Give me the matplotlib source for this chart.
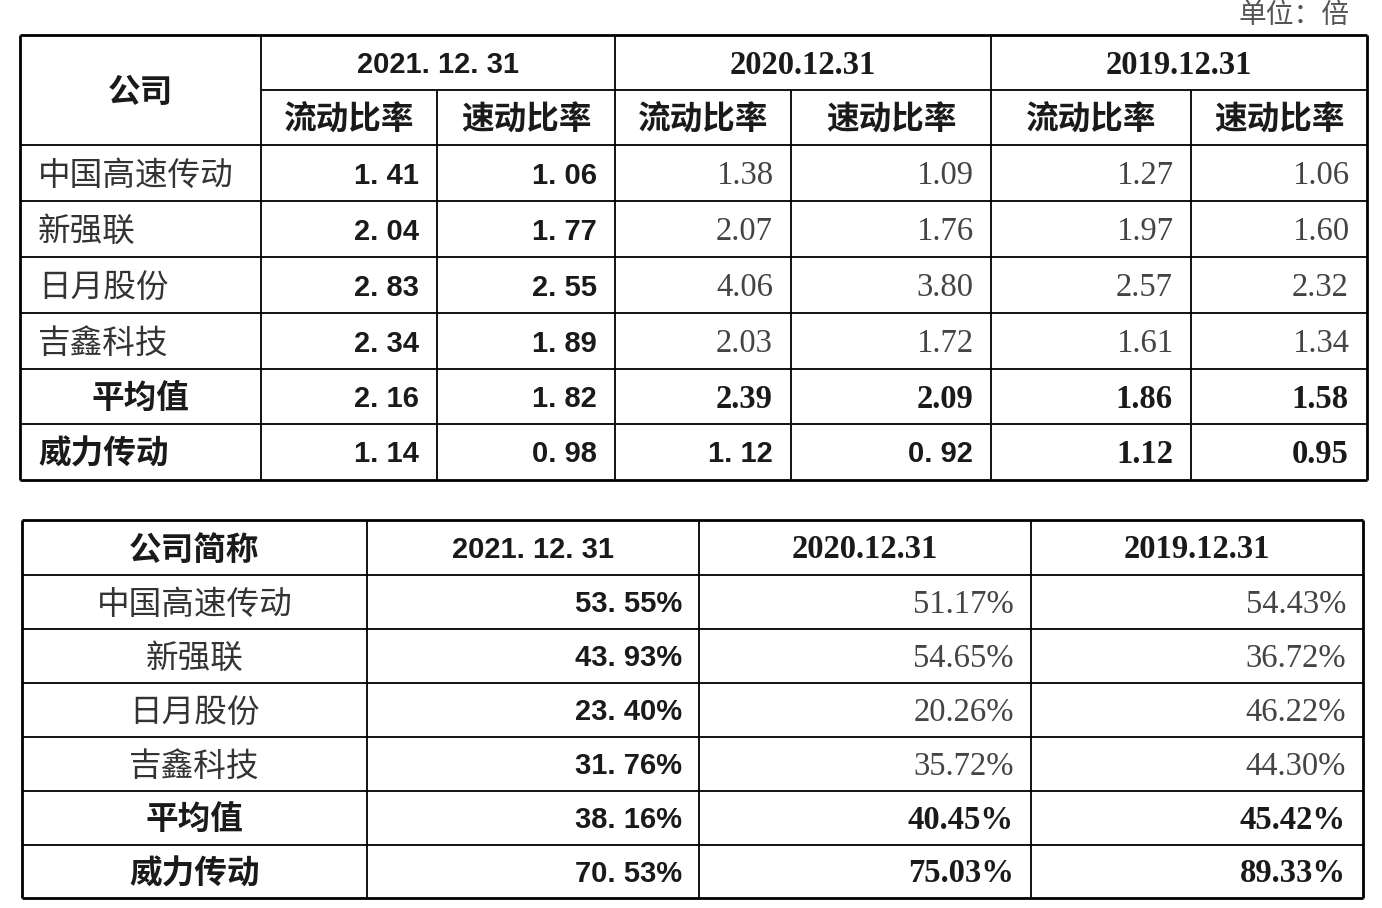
import matplotlib.pyplot as plt

plt.rcParams['font.family'] = ['Noto Sans CJK SC', 'DejaVu Sans']

# Data
companies = ['中国高速传动', '新强联', '日月股份', '吉鑫科技', '平均值', '威力传动']
years = ['2021. 12. 31', '2020.12.31', '2019.12.31']
ratio_names = ['流动比率', '速动比率']
cur_2021 = [1.41, 2.04, 2.83, 2.34, 2.16, 1.14]
quick_2021 = [1.06, 1.77, 2.55, 1.89, 1.82, 0.98]
cur_2020 = [1.38, 2.07, 4.06, 2.03, 2.39, 1.12]
quick_2020 = [1.09, 1.76, 3.80, 1.72, 2.09, 0.92]
cur_2019 = [1.27, 1.97, 2.57, 1.61, 1.86, 1.12]
quick_2019 = [1.06, 1.60, 2.32, 1.34, 1.58, 0.95]
debt_2021 = [53.55, 43.93, 23.40, 31.76, 38.16, 70.53]
debt_2020 = [51.17, 54.65, 20.26, 35.72, 40.45, 75.03]
debt_2019 = [54.43, 36.72, 46.22, 44.30, 45.42, 89.33]

W, H = 1382, 908
fig = plt.figure(figsize=(W / 100, H / 100), dpi=100)
ax = fig.add_axes([0, 0, 1, 1])
ax.set_xlim(0, W)
ax.set_ylim(H, 0)
ax.axis('off')

SANS = ['Liberation Sans', 'Noto Sans CJK SC']
SERIF = ['Liberation Serif', 'Noto Sans CJK SC']
CJK = ['Noto Sans CJK SC', 'DejaVu Sans']
CJK_FS = 23.5
SANS_FS = 21
SERIF_FS = 23.5
DY = 2.5


def hline(y, x0, x1, lw=1.3):
    ax.plot([x0, x1], [y, y], color='black', lw=lw, solid_capstyle='butt')


def vline(x, y0, y1, lw=1.3):
    ax.plot([x, x], [y0, y1], color='black', lw=lw, solid_capstyle='butt')


def txt(x, y, s, ha='center', fam=CJK, bold=False, size=CJK_FS, color='#1a1a1a'):
    ax.text(x, y + DY, s, ha=ha, va='center', family=fam, fontsize=size,
            fontweight='bold' if bold else 'normal', color=color)


def fmt_sans(v):
    return f'{v:.2f}'.replace('.', '. ')


# unit label
txt(1350, 12, '单位：倍', ha='right', color='#555555', size=20)

# ---------- Table 1 ----------
cols1 = [20, 261, 437, 615, 791, 991, 1191, 1367]
rows1 = [35, 90, 145, 201, 257, 313, 369, 424, 480]
top1, bot1 = rows1[0], rows1[-1]

for y in rows1[2:-1]:
    hline(y, cols1[0], cols1[-1])
hline(rows1[1], cols1[1], cols1[-1])
hline(top1, cols1[0], cols1[-1], lw=2)
hline(bot1, cols1[0], cols1[-1], lw=2)
vline(cols1[0], top1, bot1, lw=2)
vline(cols1[-1], top1, bot1, lw=2)
vline(cols1[1], top1, bot1)
for x in [cols1[3], cols1[5]]:
    vline(x, top1, bot1)
for x in [cols1[2], cols1[4], cols1[6]]:
    vline(x, rows1[1], bot1)

txt((cols1[0] + cols1[1]) / 2, (rows1[0] + rows1[2]) / 2, '公司', bold=True)
for i, yr in enumerate(years):
    xc = (cols1[1 + 2 * i] + cols1[3 + 2 * i]) / 2
    if i == 0:
        txt(xc, (rows1[0] + rows1[1]) / 2, yr, fam=SANS, bold=True, size=SANS_FS)
    else:
        txt(xc, (rows1[0] + rows1[1]) / 2, yr, fam=SERIF, bold=True, size=SERIF_FS)
    for j, rn in enumerate(ratio_names):
        xc2 = (cols1[1 + 2 * i + j] + cols1[2 + 2 * i + j]) / 2
        txt(xc2, (rows1[1] + rows1[2]) / 2, rn, bold=True)

series1 = [cur_2021, quick_2021, cur_2020, quick_2020, cur_2019, quick_2019]
for r, name in enumerate(companies):
    yc = (rows1[r + 2] + rows1[r + 3]) / 2
    strong = r >= 4
    if name == '平均值':
        txt((cols1[0] + cols1[1]) / 2, yc, name, bold=True)
    else:
        txt(38, yc, name, ha='left', bold=strong, color='#333333' if not strong else '#1a1a1a')
    for c, vals in enumerate(series1):
        xr = cols1[c + 2] - 18
        if c < 2 or (name == '威力传动' and c < 4):
            txt(xr, yc, fmt_sans(vals[r]), ha='right', fam=SANS, bold=True, size=SANS_FS)
        else:
            txt(xr, yc, f'{vals[r]:.2f}', ha='right', fam=SERIF, bold=strong,
                size=SERIF_FS, color='#1a1a1a' if strong else '#444444')

# ---------- Table 2 ----------
cols2 = [22, 367, 699, 1031, 1363]
rows2 = [520, 575, 629, 683, 737, 791, 845, 898]
for y in rows2[1:-1]:
    hline(y, cols2[0], cols2[-1])
hline(rows2[0], cols2[0], cols2[-1], lw=2)
hline(rows2[-1], cols2[0], cols2[-1], lw=2)
vline(cols2[0], rows2[0], rows2[-1], lw=2)
vline(cols2[-1], rows2[0], rows2[-1], lw=2)
for x in cols2[1:-1]:
    vline(x, rows2[0], rows2[-1])

yh = (rows2[0] + rows2[1]) / 2
txt((cols2[0] + cols2[1]) / 2, yh, '公司简称', bold=True)
for i, yr in enumerate(years):
    xc = (cols2[i + 1] + cols2[i + 2]) / 2
    if i == 0:
        txt(xc, yh, yr, fam=SANS, bold=True, size=SANS_FS)
    else:
        txt(xc, yh, yr, fam=SERIF, bold=True, size=SERIF_FS)

series2 = [debt_2021, debt_2020, debt_2019]
for r, name in enumerate(companies):
    yc = (rows2[r + 1] + rows2[r + 2]) / 2
    strong = r >= 4
    txt((cols2[0] + cols2[1]) / 2, yc, name, bold=strong,
        color='#1a1a1a' if strong else '#333333')
    for c, vals in enumerate(series2):
        xr = cols2[c + 2] - 17
        if c == 0:
            txt(xr, yc, fmt_sans(vals[r]) + '%', ha='right', fam=SANS, bold=True, size=SANS_FS)
        else:
            txt(xr, yc, f'{vals[r]:.2f}%', ha='right', fam=SERIF, bold=strong,
                size=SERIF_FS, color='#1a1a1a' if strong else '#444444')

fig.savefig('out.png', dpi=100, facecolor='white')
